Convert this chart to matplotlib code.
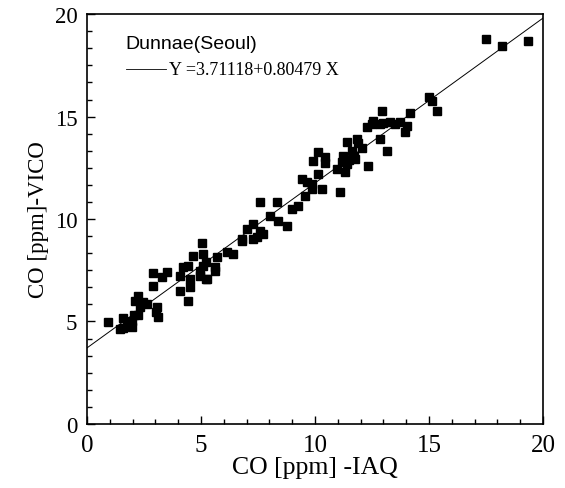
import numpy as np
import matplotlib
matplotlib.use('Agg')
import matplotlib.pyplot as plt
from matplotlib.ticker import MultipleLocator, AutoMinorLocator

# CO readings: IAQ (x) vs VICO (y)
iaq = [0.94, 1.57, 1.96, 1.59, 1.96, 2.25, 2.11, 2.32, 2.62, 2.25, 3.06, 3.03,
       2.91, 3.52, 2.91, 3.28, 4.22, 4.44, 4.08, 4.08, 4.44, 4.52, 4.52, 5.03,
       4.66, 5.10, 5.10, 4.96, 5.25, 5.61, 5.69, 6.13, 6.42, 6.78, 7.30, 5.24,
       5.61, 4.95, 5.24, 1.45, 1.75, 2.05, 3.10, 2.45,
       7.29, 7.00, 7.59, 7.44, 7.73, 6.78, 8.03, 8.39, 8.76, 7.59, 8.32, 8.98,
       9.27, 9.56, 9.86, 10.29, 9.86, 9.64, 9.42, 10.15, 10.44, 9.93, 10.44,
       10.15, 10.95, 11.10, 11.32, 11.39, 11.75, 11.24, 11.61, 12.05, 11.83,
       11.39, 12.34, 13.14, 12.85, 13.95, 14.02, 13.73, 13.29, 12.85, 12.27,
       12.56, 12.92, 14.17, 15.12, 15.34, 14.99, 17.49, 18.22, 19.34,
       12.50, 13.00, 13.50, 11.90, 11.50, 11.70, 11.20]
vico = [4.99, 5.16, 5.04, 4.67, 4.72, 6.26, 6.02, 5.69, 5.85, 5.32, 5.69, 5.45,
        7.35, 7.40, 6.75, 7.16, 7.64, 7.72, 7.23, 6.50, 6.02, 6.67, 7.07, 8.83,
        8.21, 8.29, 7.72, 7.23, 7.07, 7.48, 8.13, 8.37, 8.29, 8.94, 9.02, 7.89,
        7.64, 7.48, 7.07, 4.63, 4.85, 5.30, 5.20, 5.95,
        9.76, 9.51, 9.43, 9.11, 9.27, 9.02, 10.16, 9.92, 9.67, 10.81, 10.81,
        10.49, 10.65, 11.14, 11.46, 11.46, 11.71, 11.79, 11.95, 12.20, 12.76,
        12.85, 13.01, 13.25, 12.44, 11.30, 12.28, 12.68, 12.93, 13.09, 13.33,
        13.49, 13.90, 13.74, 12.60, 13.33, 13.90, 14.23, 14.55, 14.72, 14.72,
        14.63, 14.47, 14.80, 15.28, 15.20, 15.77, 15.28, 15.97, 18.78, 18.46,
        18.70,
        14.65, 14.70, 14.65, 13.70, 12.90, 13.10, 12.80]

# linear fit reported on the figure
intercept = 3.71118
slope = 0.80479

serif = 'Liberation Serif'

fig = plt.figure(figsize=(5.65, 4.89), dpi=100)
ax = fig.add_axes([0.154, 0.131, 0.807, 0.838])

fit_x = np.array([0, 20])
ax.plot(fit_x, intercept + slope * fit_x, color='black', lw=0.7)
ax.plot(iaq, vico, 's', color='black', ms=6.3, mec='black', mew=1.0)

ax.set_xlim(0, 20)
ax.set_ylim(0, 20)
ax.xaxis.set_major_locator(MultipleLocator(5))
ax.xaxis.set_minor_locator(MultipleLocator(1))
ax.yaxis.set_major_locator(MultipleLocator(5))
ax.yaxis.set_minor_locator(AutoMinorLocator(6))
ax.tick_params(which='both', direction='in', top=False, right=False, width=1.0)
ax.tick_params(which='major', length=6, pad=7)
ax.tick_params(which='minor', length=3.5)
for lab in ax.get_xticklabels():
    lab.set_fontfamily(serif)
    lab.set_fontsize(18)
for lab in ax.get_yticklabels():
    lab.set_fontfamily(serif)
    lab.set_fontsize(16.5)
for sp in ax.spines.values():
    sp.set_linewidth(1.2)

ax.set_xlabel('CO [ppm] -IAQ', fontfamily=serif, fontsize=18.5, labelpad=0)
ax.set_ylabel('CO [ppm]-VICO', fontfamily=serif, fontsize=16.5, labelpad=4)

ax.text(1.7, 18.55, 'Dunnae(Seoul)', fontfamily='Liberation Sans', fontsize=14,
        va='center', ha='left')
ax.plot([1.7, 3.45], [17.3, 17.3], color='black', lw=0.6)
ax.text(3.6, 17.3, 'Y =3.71118+0.80479 X', fontfamily=serif, fontsize=13,
        va='center', ha='left')

fig.savefig('out.png', dpi=100)
